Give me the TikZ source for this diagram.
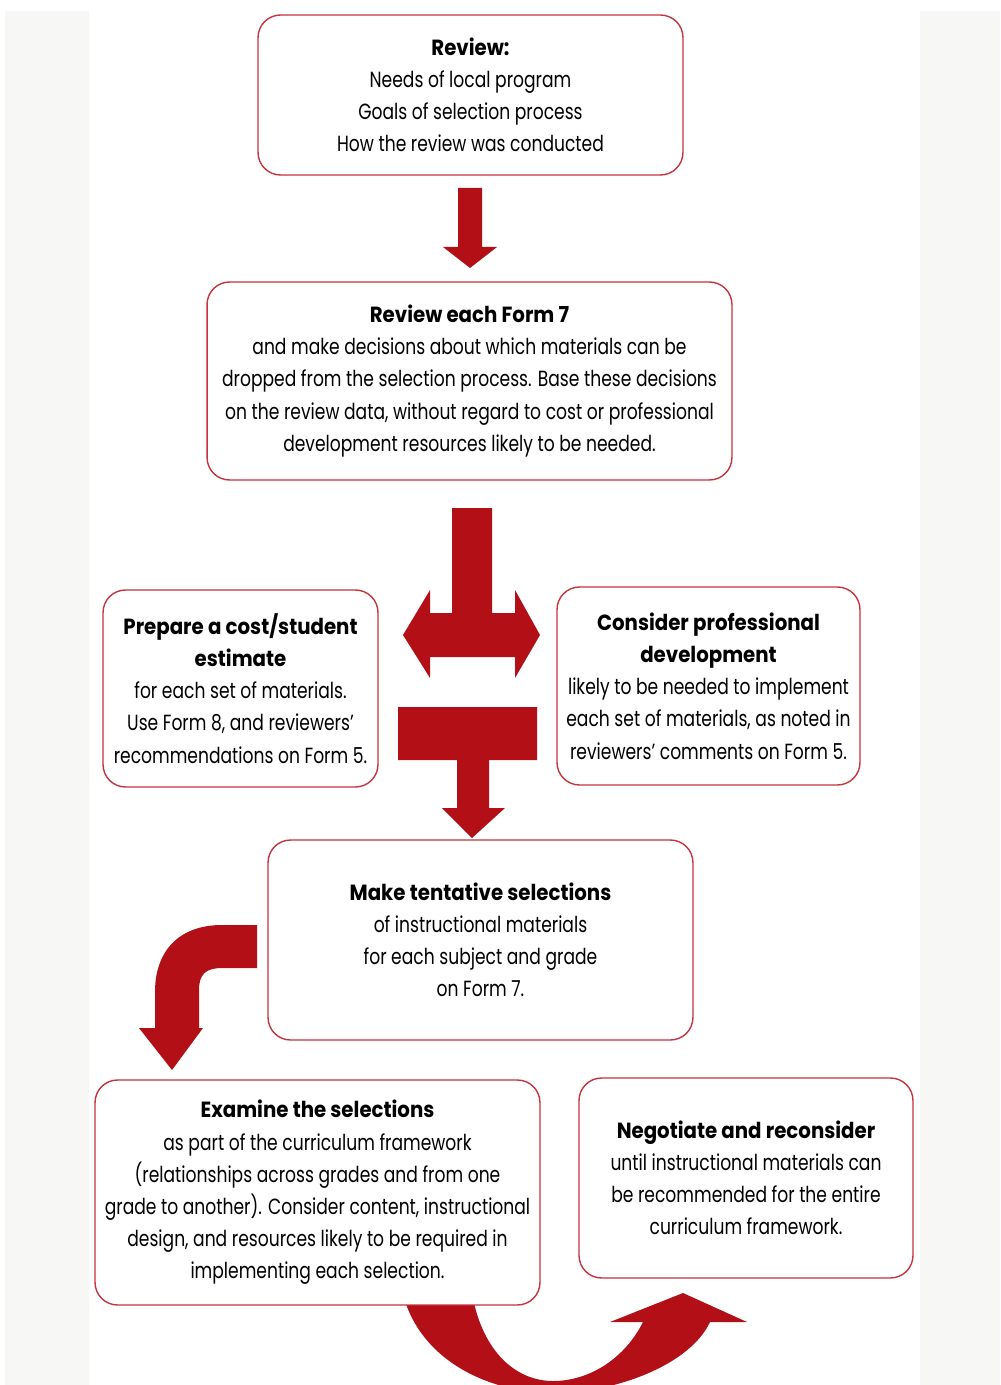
\documentclass[tikz,border=0pt]{standalone}
\usepackage{fontspec}
\setmainfont{Poppins}[FakeStretch=0.78,BoldFeatures={FakeStretch=0.9}]
\usetikzlibrary{positioning}
\definecolor{arrowred}{RGB}{178,16,22}
\definecolor{boxline}{RGB}{196,52,62}
\definecolor{pagegrey}{RGB}{247,247,245}
\tikzset{
  box/.style={draw=boxline, line width=0.8pt, fill=white, rounded corners=0.45cm,
    align=center, inner sep=0pt, font=\fontsize{12.5}{18.3}\selectfont},
  blockarrow/.style={fill=arrowred, draw=none},
}
\begin{document}
\begin{tikzpicture}[x=0.02cm,y=-0.02cm]
\useasboundingbox (0,0) rectangle (1000,1385);
\fill[pagegrey] (5,11) rectangle (1000,1385);
\fill[white] (89,11) rectangle (920,1385);
% arrows between the boxes
\fill[blockarrow] (458,188) -- (482,188) -- (482,247) -- (497,247) -- (470,268) -- (443,247) -- (458,247) -- cycle;
\fill[blockarrow] (452,508) -- (492,508) -- (492,613) -- (515,613) -- (515,590) -- (540,635) -- (515,678) -- (515,657)
   -- (430,657) -- (430,678) -- (403,635) -- (430,590) -- (430,613) -- (452,613) -- cycle;
\fill[blockarrow] (398,707) -- (537,707) -- (537,760) -- (489,760) -- (489,808) -- (505,808) -- (472,838) -- (442,808)
   -- (457,808) -- (457,760) -- (398,760) -- cycle;
\fill[blockarrow] (257,925) -- (222,925) .. controls (180,925) and (155,950) .. (155,992) -- (155,1028) -- (139,1028)
   -- (172,1070) -- (203,1028) -- (199,1028) -- (199,990) .. controls (199,975) and (205,968) .. (222,968) -- (257,968) -- cycle;
\fill[blockarrow] (400,1280) .. controls (412,1360) and (490,1393) .. (553,1393) .. controls (615,1393) and (690,1365) .. (710,1322)
   -- (747,1322) -- (683,1293) -- (610,1322) -- (643,1322) .. controls (625,1358) and (590,1381) .. (553,1381)
   .. controls (515,1381) and (478,1350) .. (470,1280) -- cycle;
% boxes
\node[box, minimum width=8.5cm, minimum height=3.2cm] (review) at (470.5,95)
  {\textbf{Review:}\\Needs of local program\\Goals of selection process\\How the review was conducted};
\node[box, minimum width=10.5cm, minimum height=3.96cm] (formseven) at (469.5,381)
  {\textbf{Review each Form 7}\\and make decisions about which materials can be\\dropped from the selection process. Base these decisions\\on the review data, without regard to cost or professional\\development resources likely to be needed.};
\node[box, minimum width=5.5cm, minimum height=3.94cm] (cost) at (240.5,688.5)
  {\textbf{Prepare a cost/student}\\\textbf{estimate}\\for each set of materials.\\Use Form 8, and reviewers'\\recommendations on Form 5.};
\node[box, minimum width=6.06cm, minimum height=3.96cm] (profdev) at (708.5,686)
  {\textbf{Consider professional}\\\textbf{development}\\likely to be needed to implement\\each set of materials, as noted in\\reviewers' comments on Form 5.};
\node[box, minimum width=8.5cm, minimum height=4cm] (tentative) at (480.5,940)
  {\textbf{Make tentative selections}\\of instructional materials\\for each subject and grade\\on Form 7.};
\node[box, minimum width=8.9cm, minimum height=4.5cm] (examine) at (317.5,1192.5)
  {\textbf{Examine the selections}\\as part of the curriculum framework\\(relationships across grades and from one\\grade to another). Consider content, instructional\\design, and resources likely to be required in\\implementing each selection.};
\node[box, minimum width=6.68cm, minimum height=4cm] (negotiate) at (746,1178)
  {\textbf{Negotiate and reconsider}\\until instructional materials can\\be recommended for the entire\\curriculum framework.};
\end{tikzpicture}
\end{document}
